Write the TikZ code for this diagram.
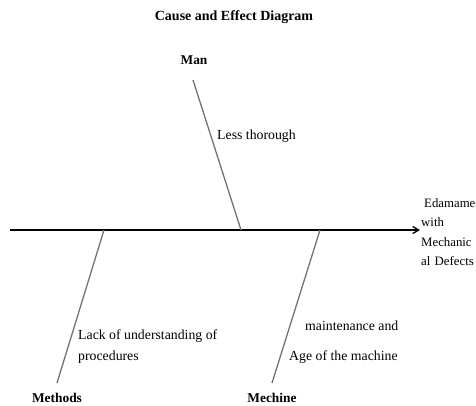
\documentclass[tikz,border=0pt]{standalone}
\usepackage{fontspec}
\setmainfont{Liberation Serif}
\usetikzlibrary{arrows.meta}
\begin{document}
\begin{tikzpicture}[x=1pt,y=-1pt,
  lbl/.style={font=\fontsize{13.8}{16}\selectfont, inner sep=0pt, anchor=west},
  cat/.style={font=\fontsize{13.4}{16}\selectfont\bfseries, inner sep=0pt},
  bone/.style={draw=black!55, line width=1.3pt},
  spine/.style={draw=black, line width=1.8pt, -{Straight Barb[length=6pt,width=7pt,line width=1.3pt]}}]
\useasboundingbox (0,0) rectangle (476,405);
\fill[white] (0,0) rectangle (476,405);

% title
\node[cat, font=\fontsize{14}{16}\selectfont\bfseries] (title) at (234,17) {Cause and Effect Diagram};

% spine and effect
\coordinate (tail) at (10,230);
\coordinate (head) at (420,230);
\draw[spine] (tail) -- (head);
\node[lbl, anchor=north west, align=left, text width=60pt,
      font=\fontsize{12.8}{19.5}\selectfont] (effect) at (421,198)
  {\hspace*{3pt}Edamame\\with\\Mechanic\\al Defects};

% bone end points on the spine
\coordinate (jMan) at (241,230);
\coordinate (jMet) at (104,230);
\coordinate (jMec) at (320,230);
\coordinate (tMan) at (193,80);
\coordinate (tMet) at (57,383);
\coordinate (tMec) at (272,383);

% bones
\draw[bone] (tMan) -- (jMan);
\draw[bone] (tMet) -- (jMet);
\draw[bone] (tMec) -- (jMec);

% category labels
\node[cat] (man) at (194,60) {Man};
\node[cat] (methods) at (57,398) {Methods};
\node[cat] (mechine) at (272,398) {Mechine};

% causes
\node[lbl] (c1) at (217,136) {Less thorough};
\node[lbl] (c2) at (78,336) {Lack of understanding of};
\node[lbl] (c3) at (78,357) {procedures};
\node[lbl] (c4) at (305,326) {maintenance and};
\node[lbl] (c5) at (289,357) {Age of the machine};
\end{tikzpicture}
\end{document}
